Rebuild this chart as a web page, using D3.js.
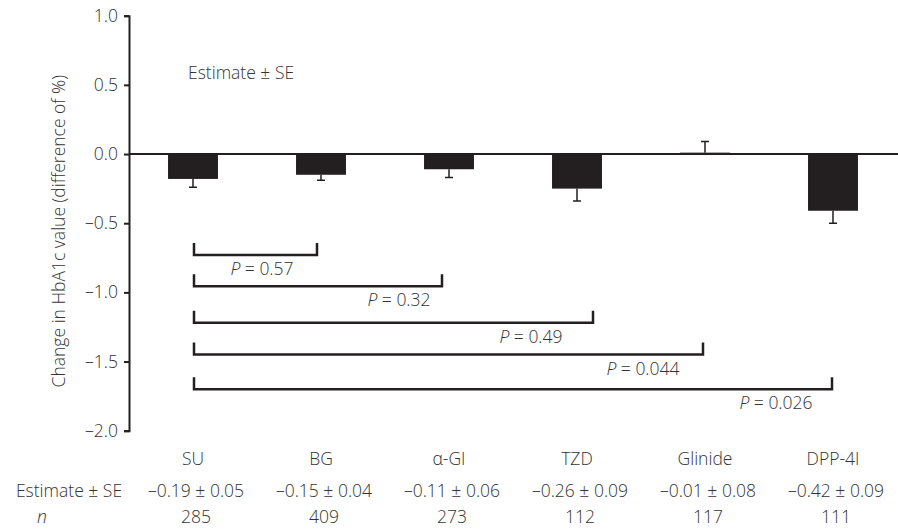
<!DOCTYPE html>
<html>
<head>
<meta charset="utf-8">
<style>
    body { margin: 0; background: #fff; }
    svg text {
        font-family: "Open Sans", "Noto Sans", sans-serif;
        font-weight: 300;
        fill: #333;
        font-size: 17.5px;
    }
    .axis path, .axis line { stroke: #231f20; stroke-width: 2; }
    .bar { fill: #231f20; }
    .err { stroke: #231f20; stroke-width: 1.5; fill: none; }
    .bracket { stroke: #231f20; stroke-width: 2.5; fill: none; }
</style>
</head>
<body>
<script src="https://cdn.jsdelivr.net/npm/d3@7"></script>
<script>
// data
var categories = ["SU", "BG", "\u03b1-GI", "TZD", "Glinide", "DPP-4I"];
var barValues = [-0.18, -0.15, -0.11, -0.25, 0.01, -0.41];
var barSE = [0.06, 0.04, 0.06, 0.09, 0.08, 0.09];
var estimateLabels = ["\u20130.19 \u00b1 0.05", "\u20130.15 \u00b1 0.04", "\u20130.11 \u00b1 0.06",
                      "\u20130.26 \u00b1 0.09", "\u20130.01 \u00b1 0.08", "\u20130.42 \u00b1 0.09"];
var nValues = [285, 409, 273, 112, 117, 111];
var compareTo = ["BG", "\u03b1-GI", "TZD", "Glinide", "DPP-4I"];
var pValues = ["0.57", "0.32", "0.49", "0.044", "0.026"];
var yTicks = [-2.0, -1.5, -1.0, -0.5, 0.0, 0.5, 1.0];

(function() {
    var width = 898, height = 529;
    var axisX = 129;

    var svg = d3.select("body").append("svg")
        .attr("width", width)
        .attr("height", height);

    var x = d3.scaleBand()
        .domain(categories)
        .range([axisX, axisX + 128 * categories.length])
        .paddingInner(0.61)
        .paddingOuter(0.305);

    var y = d3.scaleLinear()
        .domain([-2, 1])
        .range([430.7, 15.7]);

    var fmt = d3.formatLocale({decimal: ".", thousands: ",", grouping: [3], currency: ["", ""], minus: "\u2013"}).format(".1f");

    // y axis
    svg.append("g")
        .attr("class", "axis")
        .attr("transform", "translate(" + axisX + ",0)")
        .call(d3.axisLeft(y).tickValues(yTicks).tickFormat(fmt)
            .tickSizeOuter(0).tickSize(5).tickPadding(6))
        .call(function(g) { g.selectAll("text").attr("font-size", null).attr("font-family", null).attr("fill", null); });

    svg.append("text")
        .attr("transform", "translate(65," + ((y(1) + y(-2)) / 2 + 8) + ") rotate(-90)")
        .attr("text-anchor", "middle")
        .text("Change in HbA1c value (difference of %)");

    svg.append("text")
        .attr("x", 188).attr("y", 79)
        .text("Estimate \u00b1 SE");

    // bars
    svg.selectAll(".bar")
        .data(barValues)
        .enter().append("rect")
        .attr("class", "bar")
        .attr("x", function(d, i) { return x(categories[i]); })
        .attr("width", x.bandwidth())
        .attr("y", function(d) { return y(Math.max(0, d)); })
        .attr("height", function(d) { return Math.abs(y(d) - y(0)); });

    // one-sided error bars
    var capW = 4;
    svg.selectAll(".err")
        .data(barValues)
        .enter().append("path")
        .attr("class", "err")
        .attr("d", function(d, i) {
            var cx = x(categories[i]) + x.bandwidth() / 2;
            var end = d >= 0 ? d + barSE[i] : d - barSE[i];
            return "M" + cx + "," + y(d) + "V" + y(end) +
                   "M" + (cx - capW) + "," + y(end) + "H" + (cx + capW);
        });

    // zero line
    svg.append("line")
        .attr("x1", axisX).attr("x2", width)
        .attr("y1", y(0)).attr("y2", y(0))
        .style("stroke", "#231f20").style("stroke-width", 2);

    // comparison brackets (all against SU)
    var bracketLevels = [-0.73, -0.955, -1.22, -1.45, -1.70];
    var endShift = [-4, -7, 16, -2, -1];
    var labelShift = [-55, -43, -62, -60, -56];
    var armH = 12;
    var x0 = x(categories[0]) + x.bandwidth() / 2 + 1;
    compareTo.forEach(function(c, i) {
        var yy = y(bracketLevels[i]);
        var x1 = x(c) + x.bandwidth() / 2 + endShift[i];
        svg.append("path")
            .attr("class", "bracket")
            .attr("d", "M" + x0 + "," + (yy - armH) + "V" + yy + "H" + x1 + "V" + (yy - armH));
        var t = svg.append("text")
            .attr("x", x1 + labelShift[i])
            .attr("y", yy + 20)
            .attr("text-anchor", "middle");
        t.append("tspan").style("font-style", "italic").text("P");
        t.append("tspan").text(" = " + pValues[i]);
    });

    // category labels and table
    var centers = categories.map(function(c) { return x(c) + x.bandwidth() / 2; });
    svg.selectAll(".cat")
        .data(categories)
        .enter().append("text")
        .attr("class", "cat")
        .attr("x", function(d, i) { return centers[i]; })
        .attr("y", 465)
        .attr("text-anchor", "middle")
        .text(function(d) { return d; });

    svg.selectAll(".est")
        .data(estimateLabels)
        .enter().append("text")
        .attr("class", "est")
        .attr("x", function(d, i) { return centers[i] + 3; })
        .attr("y", 497)
        .attr("text-anchor", "middle")
        .text(function(d) { return d; });

    svg.selectAll(".nval")
        .data(nValues)
        .enter().append("text")
        .attr("class", "nval")
        .attr("x", function(d, i) { return centers[i] + 3; })
        .attr("y", 523)
        .attr("text-anchor", "middle")
        .text(function(d) { return d; });

    svg.append("text")
        .attr("x", 69).attr("y", 497)
        .attr("text-anchor", "middle")
        .text("Estimate \u00b1 SE");
    svg.append("text")
        .attr("x", 42).attr("y", 523)
        .attr("text-anchor", "middle")
        .style("font-style", "italic")
        .text("n");
})();
</script>
</body>
</html>
